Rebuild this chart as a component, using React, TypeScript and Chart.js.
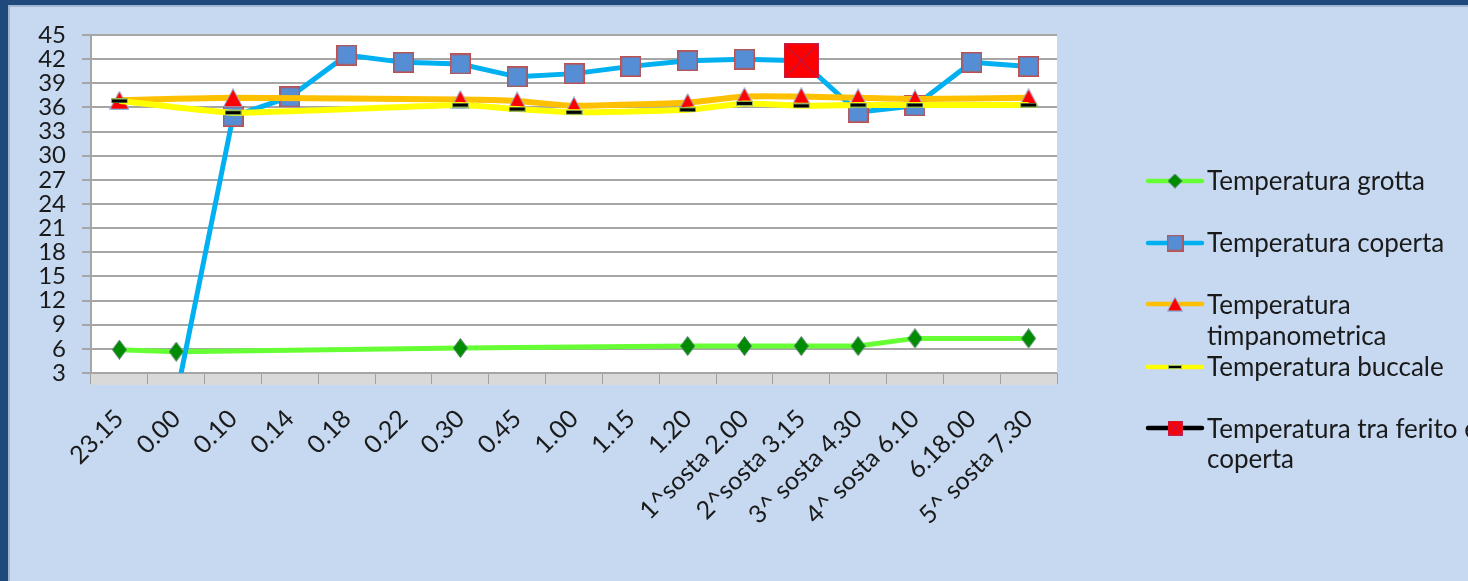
import React, { useEffect, useRef } from 'react';
import { Chart, registerables } from 'chart.js';

Chart.register(...registerables);

const categories = [
  '23.15', '0.00', '0.10', '0.14', '0.18', '0.22', '0.30', '0.45', '1.00', '1.15', '1.20',
  '1^sosta 2.00', '2^sosta 3.15', '3^ sosta 4.30', '4^ sosta 6.10', '6.18.00', '5^ sosta 7.30',
];
const yTicks = { min: 3, max: 45, step: 3 };

const grotta = [5.9, 5.65, null, null, null, null, 6.1, null, null, null, 6.35, 6.35, 6.35, 6.35, 7.3, null, 7.3];
const coperta = [null, 0, 34.9, 37.3, 42.5, 41.6, 41.4, 39.8, 40.2, 41.1, 41.8, 42.0, 41.8, 35.4, 36.2, 41.6, 41.1];
const timpanometrica = [36.9, null, 37.2, null, null, null, 37.0, 36.8, 36.2, null, 36.6, 37.35, 37.35, 37.2, 37.05, null, 37.2];
const buccale = [36.8, null, 35.35, null, null, null, 36.3, 35.8, 35.4, null, 35.7, 36.5, 36.2, 36.3, 36.3, null, 36.3];
const feritoCoperta = [null, null, null, null, null, null, null, null, null, null, null, null, 41.8, null, null, null, null];

const seriesNames = [
  'Temperatura grotta',
  'Temperatura coperta',
  'Temperatura timpanometrica',
  'Temperatura buccale',
  'Temperatura tra ferito e coperta',
];

const FONT = 'Lato';

function mk(w: number, h: number, draw: (ctx: CanvasRenderingContext2D) => void) {
  const c = document.createElement('canvas');
  c.width = w;
  c.height = h;
  const ctx = c.getContext('2d')!;
  draw(ctx);
  return c;
}

function diamondMarker(w: number, h: number) {
  return mk(w, h, (ctx) => {
    ctx.beginPath();
    ctx.moveTo(w / 2, 0.5);
    ctx.lineTo(w - 0.5, h / 2);
    ctx.lineTo(w / 2, h - 0.5);
    ctx.lineTo(0.5, h / 2);
    ctx.closePath();
    ctx.fillStyle = '#008c00';
    ctx.fill();
    ctx.strokeStyle = '#4f7f6a';
    ctx.lineWidth = 1;
    ctx.stroke();
  });
}
function squareMarker(s: number) {
  return mk(s, s, (ctx) => {
    ctx.fillStyle = '#558ed5';
    ctx.fillRect(1, 1, s - 2, s - 2);
    ctx.strokeStyle = '#c0504d';
    ctx.lineWidth = 1.5;
    ctx.strokeRect(0.75, 0.75, s - 1.5, s - 1.5);
  });
}
function triangleMarker(w: number, h: number) {
  return mk(w, h, (ctx) => {
    ctx.beginPath();
    ctx.moveTo(w / 2, 0.5);
    ctx.lineTo(w - 0.5, h - 0.5);
    ctx.lineTo(0.5, h - 0.5);
    ctx.closePath();
    ctx.fillStyle = '#ff0000';
    ctx.fill();
    ctx.strokeStyle = '#8fb8de';
    ctx.lineWidth = 1;
    ctx.stroke();
  });
}
function dashMarker(w: number, h: number) {
  return mk(w, h, (ctx) => {
    ctx.fillStyle = '#9bbb59';
    ctx.fillRect(0, 0, w, h);
    ctx.fillStyle = '#000000';
    ctx.fillRect(1, 1, w - 2, h - 2);
  });
}
function crossSquareMarker(s: number) {
  return mk(s, s, (ctx) => {
    ctx.fillStyle = '#ff0000';
    ctx.fillRect(0, 0, s, s);
    ctx.strokeStyle = 'rgba(112,48,160,0.8)';
    ctx.lineWidth = 1;
    ctx.beginPath();
    ctx.moveTo(0, 0);
    ctx.lineTo(s, s);
    ctx.moveTo(s, 0);
    ctx.lineTo(0, s);
    ctx.stroke();
    ctx.strokeStyle = 'rgba(150,60,120,0.5)';
    ctx.strokeRect(0.5, 0.5, s - 1, s - 1);
  });
}

export default function App() {
  const ref = useRef<HTMLCanvasElement>(null);

  useEffect(() => {
    const canvas = ref.current!;
    const mDiamond = diamondMarker(15, 20);
    const mSquare = squareMarker(21);
    const mTriangle = triangleMarker(20, 19);
    const mDash = dashMarker(17, 5);
    const mCross = crossSquareMarker(35);

    const legendItems = [
      { lines: [seriesNames[0]], color: '#66ff33', marker: diamondMarker(15, 15), lineY: 181, baselines: [190] },
      { lines: [seriesNames[1]], color: '#00b0f0', marker: squareMarker(17), lineY: 243, baselines: [252] },
      { lines: ['Temperatura', 'timpanometrica'], color: '#ffc000', marker: triangleMarker(16, 15), lineY: 304, baselines: [314, 345] },
      { lines: [seriesNames[3]], color: '#ffff00', marker: dashMarker(14, 4), lineY: 367, baselines: [376] },
      { lines: ['Temperatura tra ferito e', 'coperta'], color: '#000000', marker: crossSquareMarker(15), lineY: 428, baselines: [438, 468] },
    ];

    const bgPlugin = {
      id: 'bgPlot',
      beforeDraw(chart: any) {
        const { ctx, chartArea: a } = chart;
        ctx.save();
        ctx.fillStyle = '#ffffff';
        ctx.fillRect(a.left, a.top, a.right - a.left, a.bottom - a.top);
        ctx.fillStyle = '#d9d9d9';
        ctx.fillRect(a.left, a.bottom, a.right - a.left, 12);
        ctx.restore();
      },
    };

    const legendPlugin = {
      id: 'customLegend',
      afterDraw(chart: any) {
        const ctx = chart.ctx as CanvasRenderingContext2D;
        ctx.save();
        legendItems.forEach((it) => {
          ctx.strokeStyle = it.color;
          ctx.lineWidth = 4.5;
          ctx.lineCap = 'round';
          ctx.beginPath();
          ctx.moveTo(1148, it.lineY);
          ctx.lineTo(1202, it.lineY);
          ctx.stroke();
          const m = it.marker;
          ctx.drawImage(m, 1175 - m.width / 2, it.lineY - m.height / 2);
          ctx.fillStyle = '#1a1a1a';
          ctx.font = `26px ${FONT}`;
          ctx.textAlign = 'left';
          ctx.textBaseline = 'alphabetic';
          it.lines.forEach((t, i) => ctx.fillText(t, 1207, it.baselines[i]));
        });
        ctx.restore();
      },
    };

    const chart = new Chart(canvas, {
      type: 'line',
      data: {
        labels: categories,
        datasets: [
          {
            label: seriesNames[0], data: grotta, borderColor: '#66ff33', borderWidth: 5,
            pointStyle: mDiamond as any, pointRadius: 10, spanGaps: true, tension: 0, order: 5,
          },
          {
            label: seriesNames[1], data: coperta, borderColor: '#00b0f0', borderWidth: 5,
            pointStyle: mSquare as any, pointRadius: 10, spanGaps: true, tension: 0, order: 4, clip: 0 as any,
          },
          {
            label: seriesNames[2], data: timpanometrica, borderColor: '#ffc000', borderWidth: 6,
            pointStyle: mTriangle as any, pointRadius: 10, spanGaps: true, tension: 0.15, order: 3,
          },
          {
            label: seriesNames[3], data: buccale, borderColor: '#ffff00', borderWidth: 6,
            pointStyle: mDash as any, pointRadius: 9, spanGaps: true, tension: 0.15, order: 2,
          },
          {
            label: seriesNames[4], data: feritoCoperta, borderColor: '#000000', borderWidth: 5,
            pointStyle: mCross as any, pointRadius: 18, spanGaps: true, tension: 0, order: 1,
          },
        ] as any,
      },
      options: {
        responsive: false,
        animation: false,
        devicePixelRatio: 1,
        events: [],
        layout: { padding: { left: 0, top: 35, right: 411, bottom: 0 } },
        plugins: { legend: { display: false }, tooltip: { enabled: false } },
        scales: {
          x: {
            offset: true,
            grid: { offset: true, drawOnChartArea: false, drawTicks: true, tickLength: 11, color: '#a0a0a0', lineWidth: 1 },
            border: { display: false },
            ticks: {
              autoSkip: false, maxRotation: 45, minRotation: 45, padding: 20,
              color: '#1a1a1a', font: { family: FONT, size: 25 },
            },
            afterFit(s: any) { s.height = 208; },
          },
          y: {
            min: yTicks.min,
            max: yTicks.max,
            ticks: { autoSkip: false, stepSize: yTicks.step, padding: 16, color: '#1a1a1a', font: { family: FONT, size: 24 } },
            grid: { color: '#a6a6a6', lineWidth: 2, tickLength: 9 },
            border: { display: true, color: '#a6a6a6', width: 2 },
            afterFit(s: any) { s.width = 91; },
          },
        },
      } as any,
      plugins: [bgPlugin, legendPlugin],
    });
    return () => chart.destroy();
  }, []);

  return (
    <div style={{ position: 'fixed', left: 0, top: 0, width: 1468, height: 581, background: '#1f497d', overflow: 'hidden' }}>
      <div
        style={{
          position: 'absolute', left: 8, top: 5, right: 0, bottom: 0, background: '#c6d9f1',
          borderLeft: '2px solid #a3b6cf', borderTop: '2px solid #a3b6cf',
        }}
      />
      <canvas ref={ref} width={1468} height={581} style={{ position: 'absolute', left: 0, top: 0, width: 1468, height: 581 }} />
    </div>
  );
}
